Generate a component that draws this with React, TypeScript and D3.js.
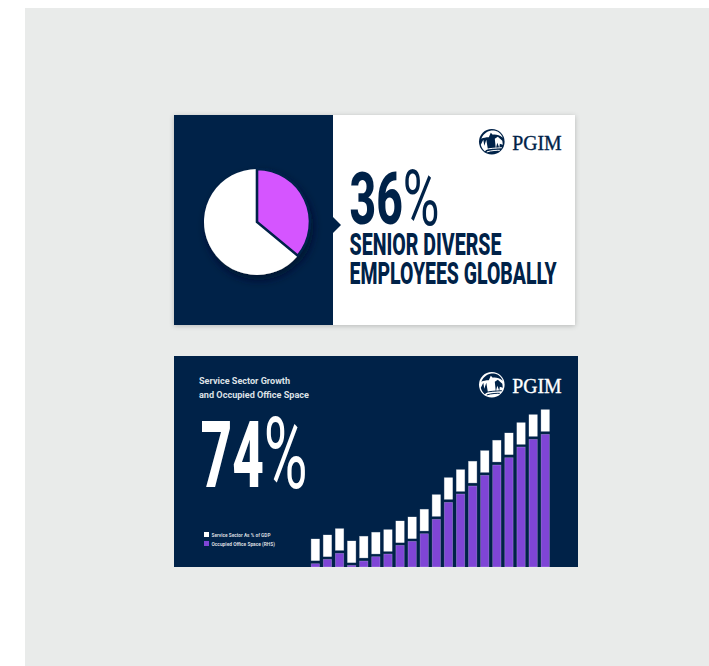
import React from "react";
import * as d3 from "d3";

const NAVY = "#002248";
const PURPLE = "#7f45d6";
const MAGENTA = "#d555ff";
const PAGE_GREY = "#e9ebea";

// Share of senior diverse employees, in percent
const diverseShare = [36, 64];
const sliceColors = [MAGENTA, "#ffffff"];

// Occupied office space (RHS) and the top of the service sector band, on one shared index
const occupiedOffice = [3.3, 7.7, 13.7, 1.7, 6, 10.3, 13, 21.7, 25.7, 33.3, 47.7, 64.7, 73, 81, 91.7, 102, 109.3, 120, 127.7, 132.7];
const serviceSectorTop = [28, 32, 38.3, 26, 30.7, 34.7, 37.3, 46, 50, 57.7, 72.3, 89.3, 97.3, 105.7, 116.3, 126.7, 134, 144.3, 152.3, 157.3];
const SERVICE_BAND = 21.6;

const legendLabels = ["Service Sector As % of GDP", "Occupied Office Space (RHS)"];
const legendColors = ["#ffffff", PURPLE];

const CONDENSED = "Roboto, sans-serif";

function Logo({ x, y, ink, paper }: { x: number; y: number; ink: string; paper: string }) {
  // Round rock emblem plus the serif wordmark; x, y is the emblem's centre
  return (
    <g transform={`translate(${x},${y})`}>
      <circle r={12.8} fill={ink} />
      <path d="M-10.5,-3 C-8,-9 -3,-11.5 2,-11.2 C6,-11 9.5,-8 11,-4 C8,-6.5 4,-7.5 1,-7 L-1,-9 L-3,-4.5 C-6,-4.5 -8.5,-4 -10.5,-3 Z" fill={paper} />
      <path d="M-11,3 L-8.5,-2 L-7.5,4 L-5.5,-2 L-4,7 L-7,9.5 C-9,7.5 -10.5,5.5 -11,3 Z" fill={paper} />
      <path d="M3,-3 L6,-5 L10.5,-1 L11,3 L8,2 L7.5,6 L5.5,1 L4,7 Z" fill={paper} />
      <path d="M-5,10.2 C0,8.6 5,8.6 8,8.6 M-7.5,8 C-2,6.5 4,6.4 10,6" stroke={paper} strokeWidth={1} fill="none" />
      <text x={20.4} y={8.2} fontFamily="'Liberation Serif', serif" fontSize={21.5} fontWeight={400} fill={ink} stroke={ink} strokeWidth={0.35} textLength={49.5} lengthAdjust="spacingAndGlyphs">PGIM</text>
    </g>
  );
}

function PieCard() {
  const cx = 257;
  const cy = 222;
  const slices = d3.pie<number>().sort(null)(diverseShare);
  const arc = d3.arc<d3.PieArcDatum<number>>().innerRadius(0).outerRadius(53);
  return (
    <g>
      <rect x={174} y={115} width={401} height={210} fill="#fff" filter="url(#cardShadow)" />
      <rect x={174} y={115} width={159} height={210} fill={NAVY} />
      <path d={d3.line()([[333, 217], [341, 225], [333, 233]]) + "Z"} fill={NAVY} />
      <g transform={`translate(${cx},${cy})`} filter="url(#pieShadow)">
        {slices.map((s, i) => (
          <path key={i} d={arc(s) ?? ""} fill={sliceColors[i]} />
        ))}
        <path d={arc(slices[0]) ?? ""} fill="none" stroke={NAVY} strokeWidth={2.6} strokeLinejoin="miter" />
      </g>
      <text x={349.5} y={223.5} fontFamily={CONDENSED} fontSize={72} fontWeight={800} fill={NAVY} textLength={90} lengthAdjust="spacingAndGlyphs">
        36<tspan fontWeight={400} fontSize={78} dy={1}>%</tspan>
      </text>
      <text x={349.5} y={255} fontFamily={CONDENSED} fontSize={32} fontWeight={800} fill={NAVY} textLength={152} lengthAdjust="spacingAndGlyphs">SENIOR DIVERSE</text>
      <text x={349.5} y={284} fontFamily={CONDENSED} fontSize={32} fontWeight={800} fill={NAVY} textLength={207} lengthAdjust="spacingAndGlyphs">EMPLOYEES GLOBALLY</text>
      <Logo x={491.8} y={141.7} ink={NAVY} paper="#fff" />
    </g>
  );
}

function BarCard() {
  const x = d3.scaleBand<number>().domain(d3.range(occupiedOffice.length)).range([309.3, 551.3]).paddingInner(0.31).paddingOuter(0.155);
  const y = d3.scaleLinear().domain([0, 157.3]).range([567, 409.7]);
  return (
    <g>
      <rect x={174} y={356} width={404} height={211} fill={NAVY} />
      <text x={199} y={384} fontFamily={CONDENSED} fontSize={9.6} fontWeight={700} fill="#dde1e6" textLength={91} lengthAdjust="spacingAndGlyphs">Service Sector Growth</text>
      <text x={199} y={398} fontFamily={CONDENSED} fontSize={9.6} fontWeight={700} fill="#dde1e6" textLength={110} lengthAdjust="spacingAndGlyphs">and Occupied Office Space</text>
      <text x={200.5} y={487} fontFamily={CONDENSED} fontSize={93} fontWeight={800} fill="#fff" textLength={107} lengthAdjust="spacingAndGlyphs">
        74<tspan fontWeight={400} fontSize={101} dy={1}>%</tspan>
      </text>
      {legendLabels.map((label, i) => (
        <g key={label} transform={`translate(204,${532 + i * 9})`}>
          <rect width={5} height={5} fill={legendColors[i]} />
          <text x={7.5} y={4.6} fontFamily={CONDENSED} fontSize={5} fontWeight={700} fill="#d5d9df" textLength={i === 0 ? 59 : 63.5} lengthAdjust="spacingAndGlyphs">{label}</text>
        </g>
      ))}
      {occupiedOffice.map((v, i) => (
        <g key={i}>
          <rect x={x(i)} y={y(v)} width={x.bandwidth()} height={y(0) - y(v)} fill={PURPLE} stroke="#ffffff" strokeOpacity={0.3} strokeWidth={0.7} />
          <rect x={x(i)} y={y(serviceSectorTop[i])} width={x.bandwidth()} height={y(0) - y(SERVICE_BAND)} fill="#fff" stroke="#ffffff" strokeOpacity={0.4} strokeWidth={0.7} />
        </g>
      ))}
      <Logo x={491.8} y={384.7} ink="#fff" paper={NAVY} />
    </g>
  );
}

export default function App() {
  return (
    <svg width={709} height={666} viewBox="0 0 709 666" style={{ position: "absolute", left: 0, top: 0, display: "block" }}>
      <defs>
        <filter id="cardShadow" x="-5%" y="-5%" width="110%" height="112%">
          <feDropShadow dx={0} dy={1} stdDeviation={2.5} floodColor="#000" floodOpacity={0.22} />
        </filter>
        <filter id="pieShadow" x="-20%" y="-20%" width="145%" height="145%">
          <feDropShadow dx={2} dy={5} stdDeviation={4.5} floodColor="#00112a" floodOpacity={0.8} />
        </filter>
      </defs>
      <rect x={25} y={8} width={684} height={658} fill={PAGE_GREY} />
      <PieCard />
      <BarCard />
    </svg>
  );
}
